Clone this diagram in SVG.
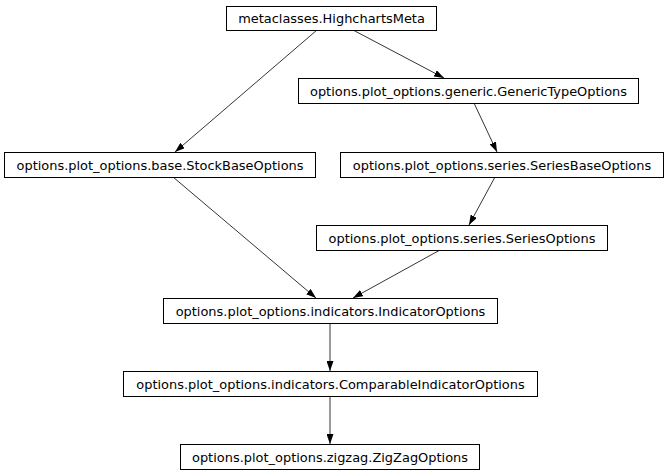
<svg xmlns="http://www.w3.org/2000/svg" width="669" height="476" viewBox="0 0 669 476">
<style>
.n rect{fill:#fff;stroke:#000;stroke-width:1}
.n text{font-family:"DejaVu Sans",sans-serif;font-size:12.95px;fill:#000;text-anchor:middle;dominant-baseline:central}
.e line{stroke:#000;stroke-width:0.8;marker-end:url(#ah)}
</style>
<defs>
<marker id="ah" viewBox="0 0 10 7" refX="10" refY="3.5" markerWidth="10" markerHeight="7" markerUnits="userSpaceOnUse" orient="auto">
<path d="M0,0 L10,3.5 L0,7 z" fill="#000"/>
</marker>
</defs>
<rect width="669" height="476" fill="#fff"/>
<g id="edges" class="e">
<line x1="317" y1="30" x2="175" y2="152"/>
<line x1="353" y1="30" x2="444" y2="78"/>
<line x1="474" y1="103" x2="497" y2="152"/>
<line x1="495" y1="177" x2="469" y2="225"/>
<line x1="173" y1="177" x2="316" y2="298"/>
<line x1="440" y1="250" x2="353" y2="298"/>
<line x1="330" y1="323" x2="330" y2="371"/>
<line x1="330" y1="396" x2="330" y2="444"/>
</g>
<g id="n1" class="n"><rect x="226.5" y="6.5" width="210" height="24"/><text x="331.5" y="18.5">metaclasses.HighchartsMeta</text></g>
<g id="n2" class="n"><rect x="298.5" y="78.5" width="340" height="25"/><text x="468.5" y="91">options.plot_options.generic.GenericTypeOptions</text></g>
<g id="n3" class="n"><rect x="4.5" y="152.5" width="311" height="25"/><text x="160" y="165">options.plot_options.base.StockBaseOptions</text></g>
<g id="n4" class="n"><rect x="340.5" y="152.5" width="323" height="25"/><text x="502" y="165">options.plot_options.series.SeriesBaseOptions</text></g>
<g id="n5" class="n"><rect x="316.5" y="225.5" width="291" height="25"/><text x="462" y="238">options.plot_options.series.SeriesOptions</text></g>
<g id="n6" class="n"><rect x="163.5" y="298.5" width="334" height="25"/><text x="330.5" y="311">options.plot_options.indicators.IndicatorOptions</text></g>
<g id="n7" class="n"><rect x="123.5" y="371.5" width="414" height="25"/><text x="330.5" y="384">options.plot_options.indicators.ComparableIndicatorOptions</text></g>
<g id="n8" class="n"><rect x="180.5" y="444.5" width="299" height="25"/><text x="330" y="457">options.plot_options.zigzag.ZigZagOptions</text></g>
</svg>
